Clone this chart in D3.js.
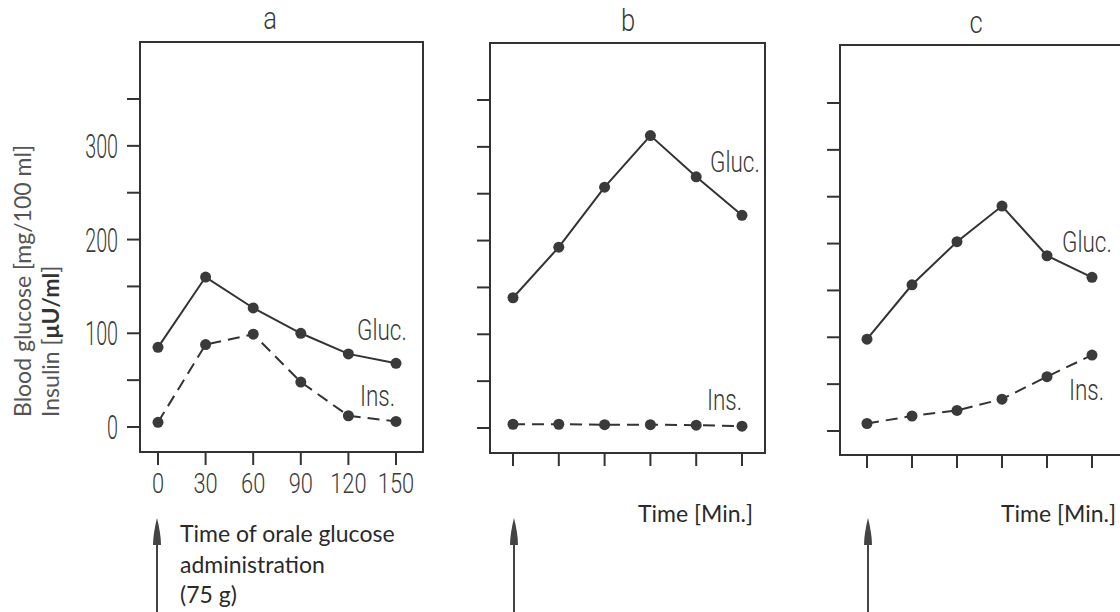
<!DOCTYPE html>
<html>
<head>
<meta charset="utf-8">
<script src="https://cdn.jsdelivr.net/npm/d3@7"></script>
<style>
  body { margin: 0; background: #fff; }
  svg { display: block; }
  .lbl { font-family: Roboto, "Liberation Sans", sans-serif; font-weight: 300; fill: #3a3a3a; }
  .txt { font-family: Lato, "Open Sans", sans-serif; fill: #2a2a2a; }
</style>
</head>
<body>
<div id="canvas"></div>
<script>
"use strict";

// time points (minutes)
let times = [0, 30, 60, 90, 120, 150];
let panelNames = ["a", "b", "c"];

let glucA = [85, 160, 127, 100, 78, 68];
let insA = [5, 88, 99, 48, 12, 6];
let glucB = [139, 193, 257, 312, 268, 227];
let insB = [4, 4, 3.5, 3.5, 3, 2];
let glucC = [98, 156, 202, 240, 187, 164];
let insC = [8, 16, 22, 34, 58, 81];

let yTicks = [0, 50, 100, 150, 200, 250, 300, 350];
let yTickLabels = [0, 100, 200, 300];

let drawing = d3.select("#canvas")
    .append("svg")
    .attr("width", 1120)
    .attr("height", 612);

// frame / axis geometry of each hand-drawn panel
let panels = [
    { name: panelNames[0], gluc: glucA, ins: insA, frame: [140, 42, 423, 452], y0: 427, y350: 99, x0: 158, x150: 396,
      titleX: 270, titleY: 29, glucLbl: [357, 340], insLbl: [360, 406], arrowX: 157, labels: true },
    { name: panelNames[1], gluc: glucB, ins: insB, frame: [490, 43, 765, 453], y0: 428, y350: 100, x0: 513, x150: 742,
      titleX: 628, titleY: 31, glucLbl: [710, 172], insLbl: [707, 410], arrowX: 514, labels: false },
    { name: panelNames[2], gluc: glucC, ins: insC, frame: [840, 45, 1126, 455], y0: 431, y350: 103, x0: 867, x150: 1092,
      titleX: 976, titleY: 33, glucLbl: [1062, 252], insLbl: [1069, 400], arrowX: 868, labels: false }
];

function narrow(g, x, y, text, size, sx, anchor) {
    g.append("text")
        .attr("class", "lbl")
        .attr("transform", `translate(${x},${y}) scale(${sx},1)`)
        .attr("text-anchor", anchor || "start")
        .style("font-size", size + "px")
        .text(text);
}

function drawPanel(p) {
    let g = drawing.append("g");
    let x = d3.scaleLinear().domain([0, 150]).range([p.x0, p.x150]);
    let y = d3.scaleLinear().domain([0, 350]).range([p.y0, p.y350]);
    let [l, t, r, b] = p.frame;

    g.append("rect")
        .attr("x", l).attr("y", t)
        .attr("width", r - l).attr("height", b - t)
        .attr("fill", "none")
        .attr("stroke", "#333")
        .attr("stroke-width", 2);

    // y ticks
    g.selectAll(".yt").data(yTicks).enter().append("line")
        .attr("x1", l - 13).attr("x2", l)
        .attr("y1", d => y(d)).attr("y2", d => y(d))
        .attr("stroke", "#333").attr("stroke-width", 2);

    // x ticks
    g.selectAll(".xt").data(times).enter().append("line")
        .attr("x1", d => x(d)).attr("x2", d => x(d))
        .attr("y1", b).attr("y2", b + 13)
        .attr("stroke", "#333").attr("stroke-width", 2);

    if (p.labels) {
        yTickLabels.forEach(v => narrow(g, l - 22, y(v) + 12, v, 34, 0.58, "end"));
        times.forEach(v => narrow(g, x(v), b + 41, v, 28, 0.78, "middle"));
    }

    narrow(g, p.titleX, p.titleY, p.name, 32, 0.8, "middle");

    let line = d3.line().x((d, i) => x(times[i])).y(d => y(d));

    g.append("path").datum(p.gluc)
        .attr("d", line)
        .attr("fill", "none").attr("stroke", "#333").attr("stroke-width", 2);
    g.append("path").datum(p.ins)
        .attr("d", line)
        .attr("fill", "none").attr("stroke", "#333").attr("stroke-width", 2)
        .attr("stroke-dasharray", "12,7");

    [p.gluc, p.ins].forEach(series => {
        g.selectAll(null).data(series).enter().append("circle")
            .attr("cx", (d, i) => x(times[i]))
            .attr("cy", d => y(d))
            .attr("r", 5.5)
            .attr("fill", "#3a3a3a");
    });

    narrow(g, p.glucLbl[0], p.glucLbl[1], "Gluc.", 30, 0.75);
    narrow(g, p.insLbl[0], p.insLbl[1], "Ins.", 30, 0.75);

    // arrow marking glucose administration
    let ax = p.arrowX;
    g.append("line")
        .attr("x1", ax).attr("x2", ax)
        .attr("y1", 540).attr("y2", 612)
        .attr("stroke", "#444").attr("stroke-width", 2);
    g.append("path")
        .attr("d", `M${ax},518 C${ax + 2},526 ${ax + 4},536 ${ax + 4},545 L${ax - 4},545 C${ax - 4},536 ${ax - 2},526 ${ax},518 Z`)
        .attr("fill", "#444");

    if (p.name !== "a") {
        g.append("text").attr("class", "txt")
            .attr("x", r === 1126 ? 1116 : r - 12).attr("y", 522)
            .attr("text-anchor", "end")
            .style("font-size", "23px")
            .text("Time [Min.]");
    }
}

panels.forEach(drawPanel);

// y axis title
let yl = drawing.append("g").attr("class", "txt")
    .style("font-size", "23px").style("fill", "#555");
yl.append("text")
    .attr("transform", "translate(31,417) rotate(-90)")
    .text("Blood glucose [mg/100 ml]");
let ins = yl.append("text")
    .attr("transform", "translate(59,417) rotate(-90)");
ins.append("tspan").text("Insulin [");
ins.append("tspan").style("font-weight", "bold").style("fill", "#333").text("μU/ml");
ins.append("tspan").text("]");

// note under panel a
let note = drawing.append("g").attr("class", "txt").style("font-size", "23px");
["Time of orale glucose", "administration", "(75 g)"].forEach((s, i) => {
    note.append("text").attr("x", 180).attr("y", 542 + i * 30.5).text(s);
});
</script>
</body>
</html>
